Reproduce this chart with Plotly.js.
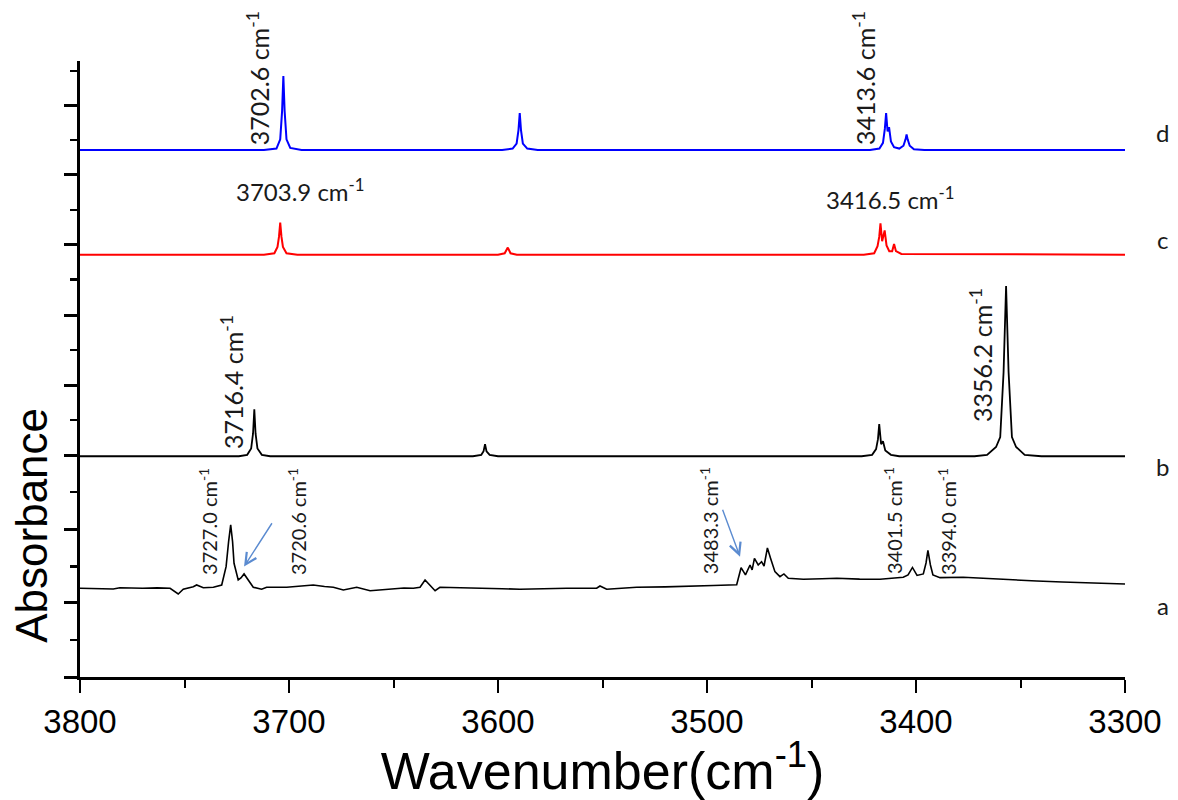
<!DOCTYPE html>
<html>
<head>
<meta charset="utf-8">
<script src="https://cdn.plot.ly/plotly-3.0.1.min.js"></script>
<style>html,body{margin:0;padding:0;background:#fff;}</style>
</head>
<body>
<div id="chart" style="width:1178px;height:800px;"></div>
<script>
// ---- Data (wavenumber in cm-1, absorbance in arbitrary stacked units) ----
const dWavenumber = [3800, 3712, 3706, 3704.2, 3703.3, 3702.7, 3702.1, 3701.2, 3699.4, 3694,
  3598, 3593, 3591.1, 3590.2, 3589.6, 3589.0, 3588.1, 3586, 3581,
  3422, 3417.5, 3415.8, 3414.9, 3414.3, 3413.6, 3412.9, 3412.0, 3410.5, 3408,
  3406.0, 3405.0, 3404.5, 3404.0, 3403.0, 3401, 3396, 3300];
const dAbsorbance = [7.40, 7.40, 7.42, 7.55, 7.95, 8.44, 7.95, 7.55, 7.43, 7.40,
  7.40, 7.42, 7.49, 7.68, 7.92, 7.68, 7.49, 7.42, 7.40,
  7.40, 7.42, 7.50, 7.70, 7.92, 7.66, 7.72, 7.52, 7.44, 7.42,
  7.46, 7.55, 7.62, 7.55, 7.46, 7.41, 7.40, 7.40];

const cWavenumber = [3800, 3712, 3707, 3705.5, 3704.8, 3704.2, 3703.6, 3702.9, 3701.2, 3696,
  3600, 3596.8, 3595.3, 3594.0, 3591,
  3425, 3420, 3418.4, 3417.6, 3417.0, 3416.2, 3415.0, 3414.1, 3412.8, 3411.4, 3410.5, 3409.6, 3407, 3300];
const cAbsorbance = [5.93, 5.93, 5.95, 6.04, 6.18, 6.38, 6.18, 6.04, 5.95, 5.93,
  5.93, 5.95, 6.03, 5.95, 5.93,
  5.93, 5.95, 6.05, 6.18, 6.37, 6.12, 6.27, 6.06, 5.98, 5.98, 6.08, 5.98, 5.94, 5.93];

const bWavenumber = [3800, 3724, 3720, 3718.1, 3717.2, 3716.6, 3716.0, 3715.1, 3713, 3709,
  3612, 3608, 3606.9, 3606.2, 3605.5, 3604, 3600,
  3426, 3421, 3419.1, 3418.2, 3417.6, 3416.7, 3415.8, 3414.7, 3412, 3408,
  3372, 3366, 3361.7, 3359.7, 3358.1, 3356.9, 3355.7, 3354.1, 3352.1, 3348, 3340, 3300];
const bAbsorbance = [3.10, 3.10, 3.12, 3.21, 3.42, 3.76, 3.42, 3.21, 3.12, 3.10,
  3.10, 3.12, 3.17, 3.27, 3.17, 3.12, 3.10,
  3.10, 3.12, 3.20, 3.34, 3.55, 3.27, 3.31, 3.18, 3.12, 3.10,
  3.10, 3.12, 3.23, 3.37, 4.28, 5.49, 4.28, 3.37, 3.23, 3.12, 3.10, 3.10];

const aWavenumber = [3800, 3792, 3784.1, 3780.9, 3770, 3763, 3756.9, 3753.0, 3750.6, 3745.8,
  3744.2, 3741.0, 3736.2, 3732.2, 3730.1, 3728.9, 3727.9, 3727.0, 3726.3, 3724.3,
  3723.0, 3721.5, 3719.5, 3717.1, 3713.1, 3710.7, 3701.1, 3695, 3688.4, 3683,
  3678.8, 3674.0, 3667.6, 3661.2, 3651.7, 3645, 3640.5, 3637.3, 3634.9, 3632.5,
  3630.1, 3627.8, 3618, 3607.0, 3598, 3589.5, 3578, 3567.1, 3552.8, 3551.2,
  3548.0, 3540, 3533.7, 3520, 3509.7, 3497, 3485.8, 3483.7, 3481.6, 3479.4,
  3478.4, 3477.3, 3475.5, 3473.9, 3472.7, 3471.1, 3469.6, 3467.5, 3465.1, 3463.2,
  3461.1, 3453.9, 3445, 3437.9, 3427, 3417.2, 3406.1, 3403.8, 3401.7, 3399.5,
  3396.5, 3395.2, 3394.3, 3393.1, 3391.9, 3388.5, 3377.4, 3368, 3358.2, 3342.2,
  3330, 3318.3, 3300];
const aAbsorbance = [1.246, 1.240, 1.236, 1.254, 1.246, 1.252, 1.246, 1.166, 1.232, 1.268,
  1.292, 1.254, 1.260, 1.292, 1.549, 1.900, 2.135, 1.900, 1.597, 1.362,
  1.390, 1.447, 1.362, 1.260, 1.232, 1.260, 1.260, 1.275, 1.292, 1.270,
  1.260, 1.222, 1.260, 1.212, 1.232, 1.250, 1.246, 1.260, 1.362, 1.292,
  1.212, 1.260, 1.250, 1.246, 1.240, 1.232, 1.240, 1.246, 1.246, 1.278,
  1.232, 1.250, 1.260, 1.265, 1.278, 1.285, 1.296, 1.535, 1.433, 1.573,
  1.503, 1.667, 1.573, 1.619, 1.559, 1.812, 1.667, 1.479, 1.409, 1.447,
  1.386, 1.372, 1.380, 1.386, 1.375, 1.372, 1.400, 1.433, 1.538, 1.426,
  1.447, 1.601, 1.777, 1.573, 1.433, 1.395, 1.400, 1.385, 1.372, 1.348,
  1.335, 1.324, 1.306];

const xTickValues = [3800, 3700, 3600, 3500, 3400, 3300];
const yMajorTicks = [0, 1.04, 2.07, 3.11, 4.10, 5.08, 6.07, 7.05, 8.03];
const yMinorTicks = [0.52, 1.55, 2.60, 3.61, 4.59, 5.58, 6.56, 7.54, 8.51];
const traceLabels = ["a", "b", "c", "d"];
const traceLabelLevels = [1.01, 2.95, 6.15, 7.64];
const peakLabels = ["3702.6 cm<sup>-1</sup>", "3413.6 cm<sup>-1</sup>", "3703.9 cm<sup>-1</sup>", "3416.5 cm<sup>-1</sup>",
  "3716.4 cm<sup>-1</sup>", "3356.2 cm<sup>-1</sup>",
  "3727.0 cm<sup>-1</sup>", "3720.6 cm<sup>-1</sup>", "3483.3 cm<sup>-1</sup>", "3401.5 cm<sup>-1</sup>", "3394.0 cm<sup>-1</sup>"];

// ---- Chart ----
const labelFont = "Lato, 'Open Sans', sans-serif";
const axisFont = "'Liberation Sans', Arial, sans-serif";

function line(x, y, color, w) {
  return {x: x, y: y, type: "scatter", mode: "lines", hoverinfo: "skip",
          line: {color: color, width: w}};
}
const data = [
  line(aWavenumber, aAbsorbance, "#000000", 1.6),
  line(bWavenumber, bAbsorbance, "#000000", 1.8),
  line(cWavenumber, cAbsorbance, "#ff0000", 2),
  line(dWavenumber, dAbsorbance, "#0000ff", 2)
];

// label placement (wavenumber, level, angle, size)
const peakLabelPos = [
  [3714.8, 8.41, -90, 25], [3424.9, 8.41, -90, 25],
  [3694.7, 6.84, 0, 24], [3412.4, 6.73, 0, 24],
  [3727.3, 4.14, -90, 25], [3368.9, 4.52, -90, 25],
  [3738.8, 2.19, -90, 20], [3696.2, 2.19, -90, 20], [3499.0, 2.19, -90, 20], [3411.0, 2.19, -90, 20], [3385.2, 2.19, -90, 20]
];
const annotations = [];
peakLabels.forEach((t, i) => {
  const p = peakLabelPos[i];
  annotations.push({x: p[0], y: p[1], xref: "x", yref: "y", text: t, showarrow: false,
    xanchor: "center", yanchor: "middle",
    textangle: p[2], font: {family: labelFont, size: p[3], color: "#1a1a1a"}});
});
traceLabels.forEach((t, i) => {
  annotations.push({x: 1.036, y: traceLabelLevels[i], xref: "paper", yref: "y", text: t,
    xanchor: "center", yanchor: "middle",
    showarrow: false, font: {family: labelFont, size: 24, color: "#1a1a1a"}});
});
// arrows
annotations.push({x: 3721.5, y: 1.55, ax: 3707.7, ay: 2.18, xref: "x", yref: "y", axref: "x", ayref: "y",
  text: "", showarrow: true, arrowhead: 5, arrowsize: 1.6, arrowwidth: 1.4, arrowcolor: "#5b8bd0"});
annotations.push({x: 3484.2, y: 1.69, ax: 3492.8, ay: 2.37, xref: "x", yref: "y", axref: "x", ayref: "y",
  text: "", showarrow: true, arrowhead: 5, arrowsize: 1.6, arrowwidth: 1.4, arrowcolor: "#5b8bd0"});
// y-axis title
annotations.push({x: -0.046, y: 0.247, xref: "paper", yref: "paper", text: "Absorbance", showarrow: false,
  xanchor: "center", yanchor: "middle",
  textangle: -90, font: {family: axisFont, size: 44, color: "#000"}});

const layout = {
  width: 1178, height: 800,
  margin: {l: 80, r: 53, t: 61, b: 123},
  paper_bgcolor: "#fff", plot_bgcolor: "#fff",
  font: {family: axisFont, size: 20, color: "#000"},
  showlegend: false,
  xaxis: {
    range: [3800, 3300], tickvals: xTickValues, ticktext: xTickValues.map(String),
    ticks: "outside", ticklen: 13, tickwidth: 2.5, tickcolor: "#000",
    showline: true, linewidth: 3, linecolor: "#000", mirror: false,
    showgrid: false, zeroline: false,
    minor: {dtick: 50, tick0: 3300, ticks: "outside", ticklen: 8, tickwidth: 2, tickcolor: "#000", showgrid: false},
    tickfont: {family: axisFont, size: 33, color: "#000"},
    title: {text: "Wavenumber(cm<sup>-1</sup>)", font: {family: axisFont, size: 52, color: "#000"}, standoff: 9},
    automargin: false
  },
  yaxis: {
    range: [0, 8.65], tickmode: "array", tickvals: yMajorTicks, showticklabels: false,
    ticks: "outside", ticklen: 13, tickwidth: 3, tickcolor: "#000",
    showline: true, linewidth: 3, linecolor: "#000",
    showgrid: false, zeroline: false,
    minor: {tickmode: "array", tickvals: yMinorTicks, ticks: "outside", ticklen: 7, tickwidth: 2.5, tickcolor: "#000", showgrid: false},
    automargin: false
  },
  annotations: annotations
};

Plotly.newPlot("chart", data, layout, {displayModeBar: false, staticPlot: true});
</script>
</body>
</html>
